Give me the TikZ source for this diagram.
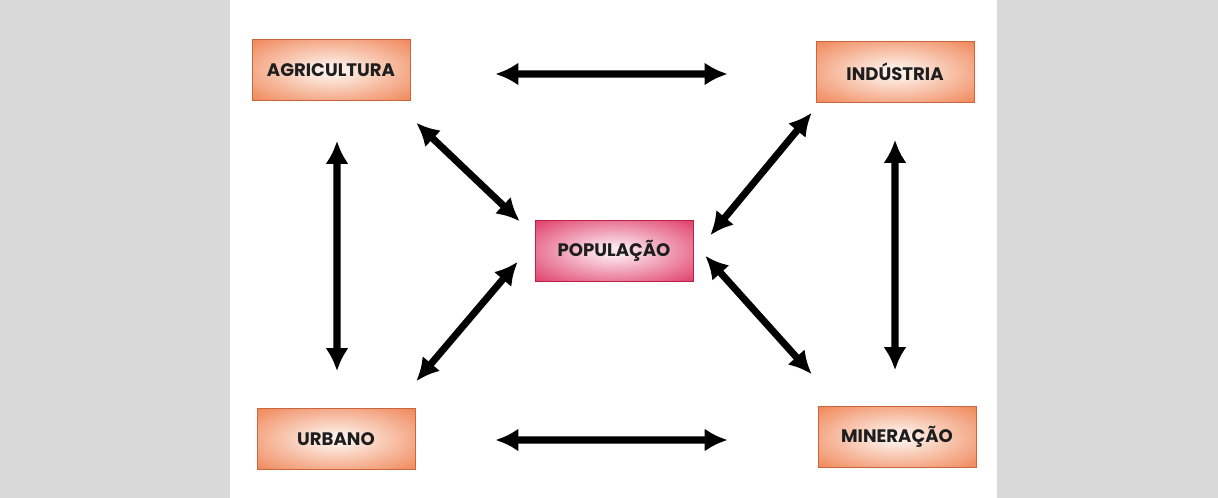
\documentclass[tikz,border=0pt]{standalone}
\usepackage{fontspec}
\setmainfont{Poppins}
\usepackage{tikz}
\usetikzlibrary{calc,arrows.meta}

\definecolor{sidegray}{HTML}{D9D9D9}
\definecolor{orangeout}{HTML}{EE7845}
\definecolor{orangein}{HTML}{FDEEE6}
\definecolor{pinkout}{HTML}{DC2656}
\definecolor{pinkin}{HTML}{FBE4EC}
\definecolor{boxtext}{HTML}{1E1E1E}

\pgfdeclareradialshading{orangeglow}{\pgfpoint{0bp}{0bp}}{%
    color(0bp)=(orangein); color(4bp)=(orangein); color(40bp)=(orangeout); color(80bp)=(orangeout)}
\pgfdeclareradialshading{pinkglow}{\pgfpoint{0bp}{0bp}}{%
    color(0bp)=(pinkin); color(4bp)=(pinkin); color(40bp)=(pinkout); color(80bp)=(pinkout)}

\begin{document}
\begin{tikzpicture}[
    font=\bfseries\fontsize{10.3}{12}\selectfont,
    box/.style={draw=orangeout!85!black, line width=0.3pt, rectangle,
        minimum width=3.16cm, minimum height=1.22cm,
        shading=orangeglow, text=boxtext},
    popbox/.style={box, draw=pinkout!85!black, shading=pinkglow},
    link/.style={line width=4pt, {Latex[length=4.6mm,width=4.6mm]}-{Latex[length=4.6mm,width=4.6mm]}}
]

    % Background
    \useasboundingbox (0,0) rectangle (24.36,9.96);
    \fill[white] (0,0) rectangle (24.36,9.96);
    \fill[sidegray] (0,0) rectangle (4.6,9.96);
    \fill[sidegray] (19.94,0) rectangle (24.36,9.96);

    % Boxes
    \node[box] (agri) at (6.62, 8.56) {AGRICULTURA};
    \node[box] (ind) at (17.9, 8.52) {INDÚSTRIA};
    \node[popbox] (pop) at (12.28, 4.94) {POPULAÇÃO};
    \node[box] (urb) at (6.72, 1.18) {URBANO};
    \node[box] (min) at (17.94, 1.22) {MINERAÇÃO};

    % Outer links
    \draw[link] ([shift={(1.7,-0.08)}]agri.east) -- ([shift={(-1.76,-0.04)}]ind.west);
    \draw[link] ([shift={(1.6,-0.02)}]urb.east) -- ([shift={(-1.8,-0.06)}]min.west);
    \draw[link] ([shift={(0.12,-0.8)}]agri.south) -- ([shift={(0.02,0.74)}]urb.north);
    \draw[link] ([shift={(0,-0.74)}]ind.south) -- ([shift={(-0.04,0.72)}]min.north);

    % Links to the centre
    \draw[link] ([shift={(0.12,-0.44)}]agri.south east) -- ([shift={(-0.3,-0.02)}]pop.north west);
    \draw[link] ([shift={(-0.08,-0.2)}]ind.south west) -- ([shift={(0.34,-0.3)}]pop.north east);
    \draw[link] ([shift={(0.02,0.54)}]urb.north east) -- ([shift={(-0.34,0.4)}]pop.south west);
    \draw[link] ([shift={(-0.12,0.64)}]min.north west) -- ([shift={(0.24,0.52)}]pop.south east);

\end{tikzpicture}
\end{document}
